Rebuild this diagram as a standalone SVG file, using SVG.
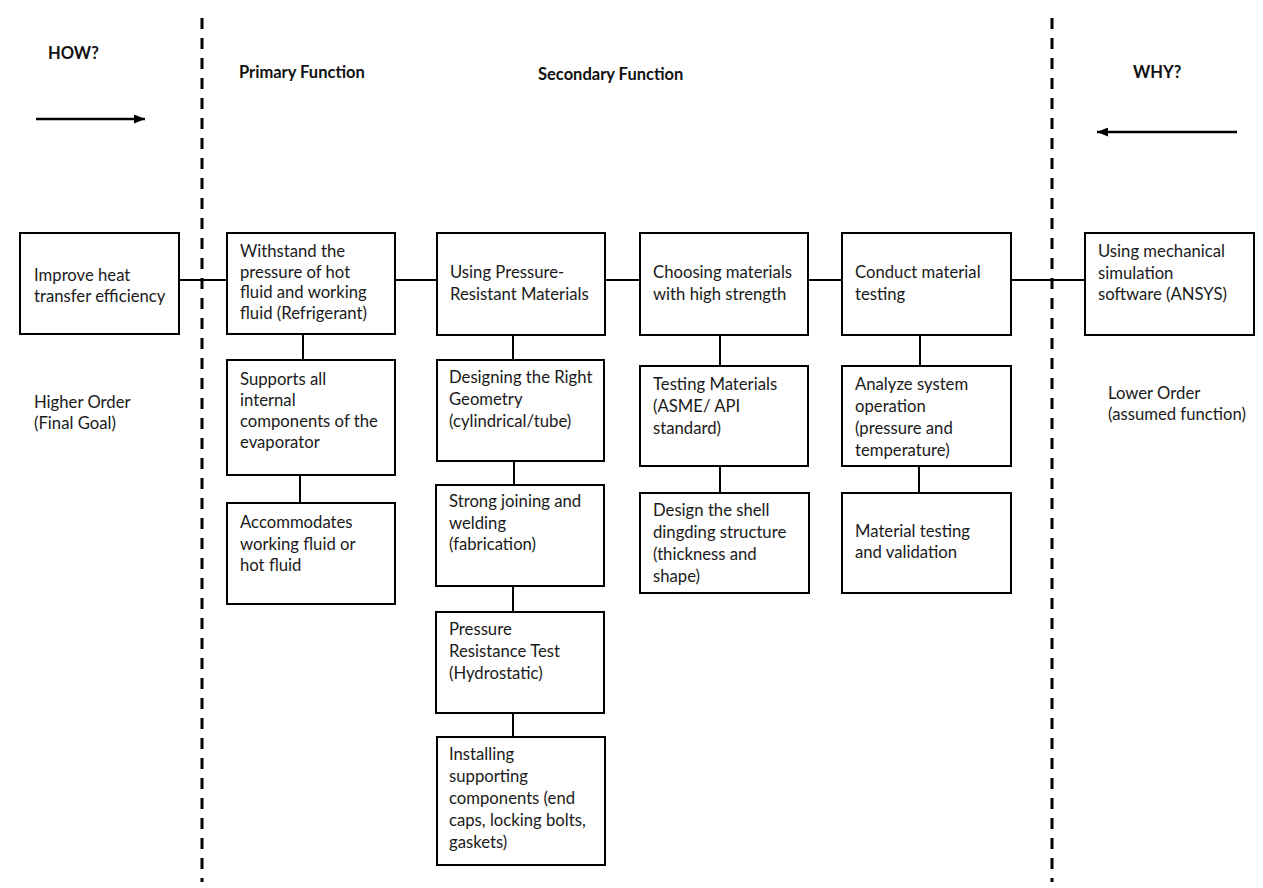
<svg xmlns="http://www.w3.org/2000/svg" width="1263" height="888" viewBox="0 0 1263 888">
<style>
.box{fill:#fff;stroke:#000;stroke-width:2}
.t{font-family:Lato,"Liberation Sans",sans-serif;font-size:16.7px;fill:#1a1a1a}
.h{font-family:Lato,"Liberation Sans",sans-serif;font-size:16.5px;font-weight:bold;fill:#111}
.c{stroke:#000;stroke-width:2;fill:none}
.a{stroke:#000;stroke-width:2.5;fill:none}
.d{stroke:#000;stroke-width:3;stroke-dasharray:11 9;fill:none}
</style>
<defs>
<marker id="ah" viewBox="0 0 10 10" refX="10" refY="5" markerWidth="4.4" markerHeight="3.6" orient="auto" markerUnits="strokeWidth" preserveAspectRatio="none">
<path d="M0,0 L10,5 L0,10 z" fill="#000"/>
</marker>
</defs>
<rect width="1263" height="888" fill="#fff"/>
<g id="guides">
<line class="d" x1="202" y1="18" x2="202" y2="882"/>
<line class="d" x1="1052" y1="18" x2="1052" y2="882"/>
<line class="a" x1="36" y1="119" x2="145" y2="119" marker-end="url(#ah)"/>
<line class="a" x1="1237" y1="132" x2="1097" y2="132" marker-end="url(#ah)"/>
</g>
<g id="headers">
<text class="h" x="48" y="59">HOW?</text>
<text class="h" x="239" y="78">Primary Function</text>
<text class="h" x="538" y="80">Secondary Function</text>
<text class="h" x="1133" y="78">WHY?</text>
<text class="t" x="34" y="408">Higher Order</text>
<text class="t" x="34" y="429">(Final Goal)</text>
<text class="t" x="1108" y="399">Lower Order</text>
<text class="t" x="1108" y="420">(assumed function)</text>
</g>
<g id="connectors">
<line class="c" x1="179" y1="280" x2="227" y2="280"/>
<line class="c" x1="395" y1="280" x2="437" y2="280"/>
<line class="c" x1="605" y1="280" x2="640" y2="280"/>
<line class="c" x1="808" y1="280" x2="842" y2="280"/>
<line class="c" x1="1011" y1="280" x2="1085" y2="280"/>
<line class="c" x1="303" y1="334" x2="303" y2="360"/>
<line class="c" x1="300" y1="475" x2="300" y2="503"/>
<line class="c" x1="513" y1="335" x2="513" y2="360"/>
<line class="c" x1="514" y1="461" x2="514" y2="485"/>
<line class="c" x1="513" y1="586" x2="513" y2="612"/>
<line class="c" x1="513" y1="713" x2="513" y2="737"/>
<line class="c" x1="720" y1="335" x2="720" y2="366"/>
<line class="c" x1="720" y1="466" x2="720" y2="493"/>
<line class="c" x1="920" y1="335" x2="920" y2="366"/>
<line class="c" x1="919" y1="466" x2="919" y2="493"/>
</g>
<g id="n1"><rect class="box" x="20" y="233" width="159" height="101"/>
<text class="t" x="34" y="281">Improve heat</text><text class="t" x="34" y="302">transfer efficiency</text></g>
<g id="n2"><rect class="box" x="227" y="233" width="168" height="101"/>
<text class="t" x="240" y="257">Withstand the</text><text class="t" x="240" y="278">pressure of hot</text><text class="t" x="240" y="298">fluid and working</text><text class="t" x="240" y="319">fluid (Refrigerant)</text></g>
<g id="n3"><rect class="box" x="227" y="360" width="168" height="115"/>
<text class="t" x="240" y="385">Supports all</text><text class="t" x="240" y="406">internal</text><text class="t" x="240" y="427">components of the</text><text class="t" x="240" y="448">evaporator</text></g>
<g id="n4"><rect class="box" x="227" y="503" width="168" height="101"/>
<text class="t" x="240" y="528">Accommodates</text><text class="t" x="240" y="550">working fluid or</text><text class="t" x="240" y="571">hot fluid</text></g>
<g id="n5"><rect class="box" x="437" y="233" width="168" height="102"/>
<text class="t" x="450" y="278">Using Pressure-</text><text class="t" x="450" y="300">Resistant Materials</text></g>
<g id="n6"><rect class="box" x="437" y="360" width="167" height="101"/>
<text class="t" x="449" y="383">Designing the Right</text><text class="t" x="449" y="405">Geometry</text><text class="t" x="449" y="427">(cylindrical/tube)</text></g>
<g id="n7"><rect class="box" x="436" y="485" width="168" height="101"/>
<text class="t" x="449" y="507">Strong joining and</text><text class="t" x="449" y="529">welding</text><text class="t" x="449" y="550">(fabrication)</text></g>
<g id="n8"><rect class="box" x="436" y="612" width="168" height="101"/>
<text class="t" x="449" y="635">Pressure</text><text class="t" x="449" y="657">Resistance Test</text><text class="t" x="449" y="679">(Hydrostatic)</text></g>
<g id="n9"><rect class="box" x="437" y="737" width="168" height="128"/>
<text class="t" x="449" y="760">Installing</text><text class="t" x="449" y="782">supporting</text><text class="t" x="449" y="804">components (end</text><text class="t" x="449" y="826">caps, locking bolts,</text><text class="t" x="449" y="848">gaskets)</text></g>
<g id="n10"><rect class="box" x="640" y="233" width="168" height="102"/>
<text class="t" x="653" y="278">Choosing materials</text><text class="t" x="653" y="300">with high strength</text></g>
<g id="n11"><rect class="box" x="640" y="366" width="168" height="100"/>
<text class="t" x="653" y="390">Testing Materials</text><text class="t" x="653" y="412">(ASME/ API</text><text class="t" x="653" y="434">standard)</text></g>
<g id="n12"><rect class="box" x="640" y="493" width="169" height="100"/>
<text class="t" x="653" y="516">Design the shell</text><text class="t" x="653" y="538">dingding structure</text><text class="t" x="653" y="560">(thickness and</text><text class="t" x="653" y="582">shape)</text></g>
<g id="n13"><rect class="box" x="842" y="233" width="169" height="102"/>
<text class="t" x="855" y="278">Conduct material</text><text class="t" x="855" y="300">testing</text></g>
<g id="n14"><rect class="box" x="842" y="366" width="169" height="100"/>
<text class="t" x="855" y="390">Analyze system</text><text class="t" x="855" y="412">operation</text><text class="t" x="855" y="434">(pressure and</text><text class="t" x="855" y="456">temperature)</text></g>
<g id="n15"><rect class="box" x="842" y="493" width="169" height="100"/>
<text class="t" x="855" y="537">Material testing</text><text class="t" x="855" y="558">and validation</text></g>
<g id="n16"><rect class="box" x="1085" y="233" width="169" height="102"/>
<text class="t" x="1098" y="257">Using mechanical</text><text class="t" x="1098" y="279">simulation</text><text class="t" x="1098" y="300">software (ANSYS)</text></g>
</svg>
